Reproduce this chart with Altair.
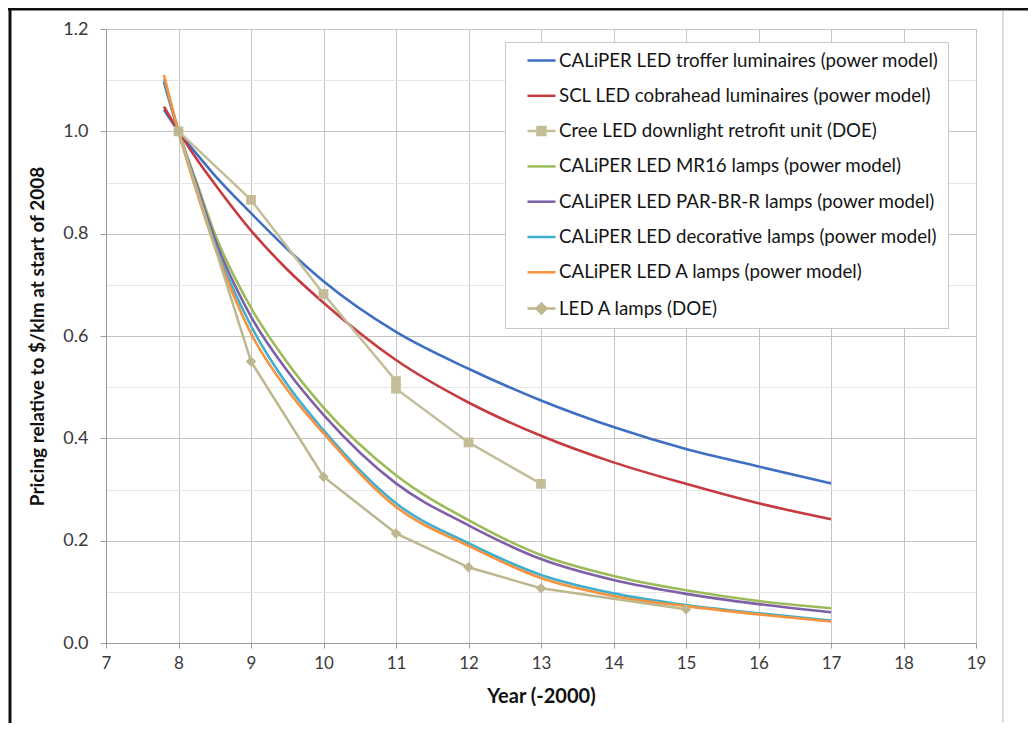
import altair as alt
import pandas as pd

FONT = "Lato"

SERIES = [
    "CALiPER LED troffer luminaires (power model)",
    "SCL LED cobrahead luminaires (power model)",
    "Cree LED downlight retrofit unit (DOE)",
    "CALiPER LED MR16 lamps (power model)",
    "CALiPER LED PAR-BR-R lamps (power model)",
    "CALiPER LED decorative lamps (power model)",
    "CALiPER LED A lamps (power model)",
    "LED A lamps (DOE)",
]
COLORS = ["#3F6FC2", "#C63B3F", "#C4BD97", "#9BBB59", "#7F5FA8", "#3FAFCF", "#F7923E", "#BDB68E"]

# power-model curves
curve_x = [7.8, 8.0, 8.25, 8.5, 9.0, 9.5, 10, 11, 12, 13, 14, 15, 16, 17]
troffer = [1.042, 1.0, 0.956, 0.914, 0.840, 0.770, 0.707, 0.608, 0.536, 0.474, 0.422, 0.379, 0.345, 0.312]
cobrahead = [1.048, 1.0, 0.946, 0.897, 0.806, 0.730, 0.665, 0.553, 0.470, 0.405, 0.353, 0.311, 0.273, 0.242]
mr16 = [1.095, 1.0, 0.900, 0.800, 0.655, 0.548, 0.460, 0.328, 0.240, 0.172, 0.131, 0.103, 0.082, 0.068]
parbr = [1.097, 1.0, 0.895, 0.790, 0.638, 0.532, 0.446, 0.312, 0.230, 0.164, 0.123, 0.096, 0.076, 0.060]
decor = [1.102, 1.0, 0.888, 0.780, 0.620, 0.505, 0.416, 0.273, 0.195, 0.133, 0.097, 0.074, 0.058, 0.044]
a_lamps = [1.110, 1.0, 0.882, 0.775, 0.605, 0.495, 0.410, 0.266, 0.190, 0.127, 0.092, 0.072, 0.056, 0.042]

# DOE data points
cree_x = [8, 9, 10, 11, 11, 12, 13]
cree_y = [1.0, 0.866, 0.682, 0.512, 0.497, 0.392, 0.311]
doe_x = [8, 9, 10, 11, 12, 13, 15]
doe_y = [1.0, 0.55, 0.325, 0.214, 0.148, 0.107, 0.066]

x_ticks = list(range(7, 20))
y_ticks = [round(i * 0.05, 2) for i in range(25)]

curve_sets = [
    (SERIES[0], troffer), (SERIES[1], cobrahead), (SERIES[3], mr16),
    (SERIES[4], parbr), (SERIES[5], decor), (SERIES[6], a_lamps),
]
rows = []
for name, vals in curve_sets:
    for i, (xv, yv) in enumerate(zip(curve_x, vals)):
        rows.append({"series": name, "x": xv, "y": yv, "ord": i})
curves = pd.DataFrame(rows)

prow = []
for i, (xv, yv) in enumerate(zip(cree_x, cree_y)):
    prow.append({"series": SERIES[2], "x": xv, "y": yv, "ord": i})
for i, (xv, yv) in enumerate(zip(doe_x, doe_y)):
    prow.append({"series": SERIES[7], "x": xv, "y": yv, "ord": i})
points = pd.DataFrame(prow)

LINE = "M-1.75,0H1.75"
def sq(h):
    return f"M-{h},-{h}H{h}V{h}H-{h}Z"
def dia(h):
    return f"M0,-{h}L{h},0L0,{h}L-{h},0Z"
SQ = LINE + sq(0.5) + sq(0.3) + sq(0.1)
DI = LINE + dia(0.62) + dia(0.36) + dia(0.1)
SHAPES = [LINE, LINE, SQ, LINE, LINE, LINE, LINE, DI]

x_enc = alt.X(
    "x:Q",
    scale=alt.Scale(domain=[7, 19], nice=False, zero=False),
    axis=alt.Axis(
        values=x_ticks, format="d", title="Year (-2000)",
        grid=True, gridColor="#c4c4c4", gridWidth=1,
        domainColor="#9a9a9a", tickColor="#9a9a9a", tickSize=5,
        labelFont=FONT, labelFontSize=17, labelColor="#3a3a3a", labelPadding=7,
        titleFont=FONT, titleFontSize=20, titleFontWeight="bold", titleColor="#111",
        titlePadding=15, labelFlush=False,
    ),
)
y_enc = alt.Y(
    "y:Q",
    scale=alt.Scale(domain=[0, 1.2], nice=False),
    axis=alt.Axis(
        values=y_ticks, title="Pricing relative to $/klm at start of 2008",
        labelExpr="round(datum.value*100) % 20 == 0 ? format(datum.value, '.1f') : ''",
        grid=True,
        gridColor={"condition": {"test": "round(datum.value*100) % 20 == 0", "value": "#c4c4c4"}, "value": "#e6e6e6"},
        tickColor={"condition": {"test": "round(datum.value*100) % 20 == 0", "value": "#9a9a9a"}, "value": "transparent"},
        tickSize=6, domainColor="#9a9a9a",
        labelFont=FONT, labelFontSize=18, labelColor="#3a3a3a", labelPadding=12,
        labelOverlap=False, labelFlush=False,
        titleFont=FONT, titleFontSize=19, titleFontWeight="bold", titleColor="#111",
        titlePadding=15,
    ),
)

# mark colours use a reversed-order domain so their (hidden) legends are not
# merged with the visible colour/shape legend
stroke_scale = alt.Scale(domain=list(reversed(SERIES)), range=list(reversed(COLORS)))

curve_layer = alt.Chart(curves).mark_line(strokeWidth=2.6, interpolate="monotone").encode(
    x=x_enc, y=y_enc,
    stroke=alt.Stroke("series:N", scale=stroke_scale, legend=None),
    order=alt.Order("ord:Q"),
)

doe_lines = alt.Chart(points).mark_line(strokeWidth=2.5).encode(
    x="x:Q", y="y:Q",
    stroke=alt.Stroke("series:N", scale=stroke_scale, legend=None),
    order=alt.Order("ord:Q"),
)

cree_pts = alt.Chart(points).transform_filter(
    alt.datum.series == SERIES[2]
).mark_point(shape="square", filled=True, size=95, opacity=1, strokeWidth=0).encode(
    x="x:Q", y="y:Q",
    fill=alt.Fill("series:N", scale=stroke_scale, legend=None),
)
doe_pts = alt.Chart(points).transform_filter(
    alt.datum.series == SERIES[7]
).mark_point(shape="diamond", filled=True, size=110, opacity=1, strokeWidth=0).encode(
    x="x:Q", y="y:Q",
    fill=alt.Fill("series:N", scale=stroke_scale, legend=None),
)

legend_cfg = dict(
    title=None, orient="none", legendX=399, legendY=13,
    labelFont=FONT, labelFontSize=18.7, labelColor="#141414", labelLimit=700,
    symbolSize=256, symbolStrokeWidth=2.5, symbolOffset=18, labelOffset=8,
    rowPadding=15.3, padding=9, strokeColor="#c8c8c8", fillColor="white",
)
legend_layer = alt.Chart(points).transform_filter(
    "datum.x > 100"
).mark_point(filled=False, opacity=1, strokeWidth=2.5).encode(
    x="x:Q", y="y:Q",
    color=alt.Color("series:N", scale=alt.Scale(domain=SERIES, range=COLORS),
                    legend=alt.Legend(**legend_cfg)),
    shape=alt.Shape("series:N", scale=alt.Scale(domain=SERIES, range=SHAPES),
                    legend=alt.Legend(**legend_cfg)),
)

frame_src = pd.DataFrame({"k": [0]})
frame_left = alt.Chart(frame_src).mark_rule(color="#111", strokeWidth=3).encode(
    x=alt.value(-96), y=alt.value(-21), y2=alt.value(700))
frame_top = alt.Chart(frame_src).mark_rule(color="#111", strokeWidth=3).encode(
    x=alt.value(-98), x2=alt.value(925), y=alt.value(-20))
frame_right = alt.Chart(frame_src).mark_rule(color="#dcdcdc", strokeWidth=2).encode(
    x=alt.value(897), y=alt.value(-18), y2=alt.value(700))

chart = alt.layer(
    curve_layer, doe_lines, cree_pts, doe_pts, legend_layer,
    frame_left, frame_top, frame_right,
).properties(
    width=870, height=614,
    padding={"left": 98, "top": 21, "right": 52, "bottom": 80},
    autosize=alt.AutoSizeParams(type="none"),
    background="white",
).configure_view(stroke="#c4c4c4")

chart.save("out.html", embed_options={"renderer": "svg", "actions": False})
